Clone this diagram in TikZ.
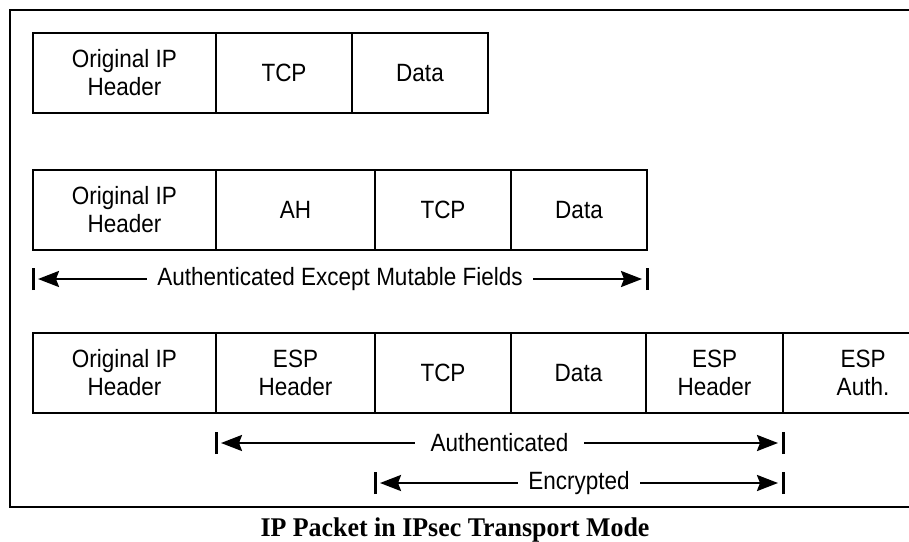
\documentclass[tikz,border=0pt]{standalone}
\usepackage{fontspec}
\setmainfont{Liberation Serif}
\newfontfamily\cellfont[FakeStretch=0.9]{Liberation Sans}
\newfontfamily\capfont[FakeStretch=0.96]{Liberation Serif}
\usetikzlibrary{positioning, arrows.meta}
\tikzset{
  cell/.style={draw, line width=2.2pt, outer sep=0pt, minimum height=80pt, align=center,
    font=\cellfont\fontsize{25}{28}\selectfont},
  span/.style={line width=2.4pt, <->, shorten <=5pt, shorten >=5pt},
  spanlabel/.style={fill=white, inner xsep=10pt, inner ysep=2pt, font=\cellfont\fontsize{25}{28}\selectfont},
  bar/.style={line width=3pt}
}

\begin{document}
\begin{tikzpicture}[x=1pt, y=-1pt, line cap=butt, >={Stealth[length=21pt,width=16pt,inset=3pt]}]
    \clip (0,0) rectangle (909,541);
    \draw[line width=2.5pt] (10,10) rectangle (940,507);
    % plain packet
    \node[cell, minimum width=183pt, anchor=north west] (ip1) at (33,33) {Original IP\\Header};
    \node[cell, minimum width=136pt, right=0pt of ip1] (tcp1) {TCP};
    \node[cell, minimum width=136pt, right=0pt of tcp1] (data1) {Data};
    % AH
    \node[cell, minimum width=183pt, anchor=north west] (ip2) at (33,170) {Original IP\\Header};
    \node[cell, minimum width=159pt, right=0pt of ip2] (ah2) {AH};
    \node[cell, minimum width=136pt, right=0pt of ah2] (tcp2) {TCP};
    \node[cell, minimum width=136pt, right=0pt of tcp2] (data2) {Data};
    \coordinate (a1) at (ip2.south west |- 0,279);
    \coordinate (a2) at (data2.south east |- 0,279);
    \draw[span] (a1) -- (a2) node[spanlabel, midway] {Authenticated Except Mutable Fields};
    \draw[bar] ([yshift=-11pt]a1) -- ([yshift=11pt]a1);
    \draw[bar] ([yshift=-11pt]a2) -- ([yshift=11pt]a2);
    % ESP
    \node[cell, minimum width=183pt, anchor=north west] (ip3) at (33,333) {Original IP\\Header};
    \node[cell, minimum width=159pt, right=0pt of ip3] (esph3) {ESP\\Header};
    \node[cell, minimum width=136pt, right=0pt of esph3] (tcp3) {TCP};
    \node[cell, minimum width=135pt, right=0pt of tcp3] (data3) {Data};
    \node[cell, minimum width=137pt, right=0pt of data3] (espt3) {ESP\\Header};
    \node[cell, minimum width=160pt, right=0pt of espt3] (auth3) {ESP\\Auth.};
    \coordinate (b1) at (esph3.south west |- 0,443);
    \coordinate (b2) at (espt3.south east |- 0,443);
    \draw[span] (b1) -- (b2) node[spanlabel, midway, inner xsep=16pt] {Authenticated};
    \draw[bar] ([yshift=-11pt]b1) -- ([yshift=11pt]b1);
    \draw[bar] ([yshift=-11pt]b2) -- ([yshift=11pt]b2);
    \coordinate (c1) at (tcp3.south west |- 0,483);
    \coordinate (c2) at (espt3.south east |- 0,483);
    \draw[span] (c1) -- (c2) node[spanlabel, midway] {Encrypted};
    \draw[bar] ([yshift=-11pt]c1) -- ([yshift=11pt]c1);
    \draw[bar] ([yshift=-11pt]c2) -- ([yshift=11pt]c2);
    \node[anchor=base, font=\capfont\bfseries\fontsize{27}{30}\selectfont] (caption) at (455,536) {IP Packet in IPsec Transport Mode};
\end{tikzpicture}
\end{document}
